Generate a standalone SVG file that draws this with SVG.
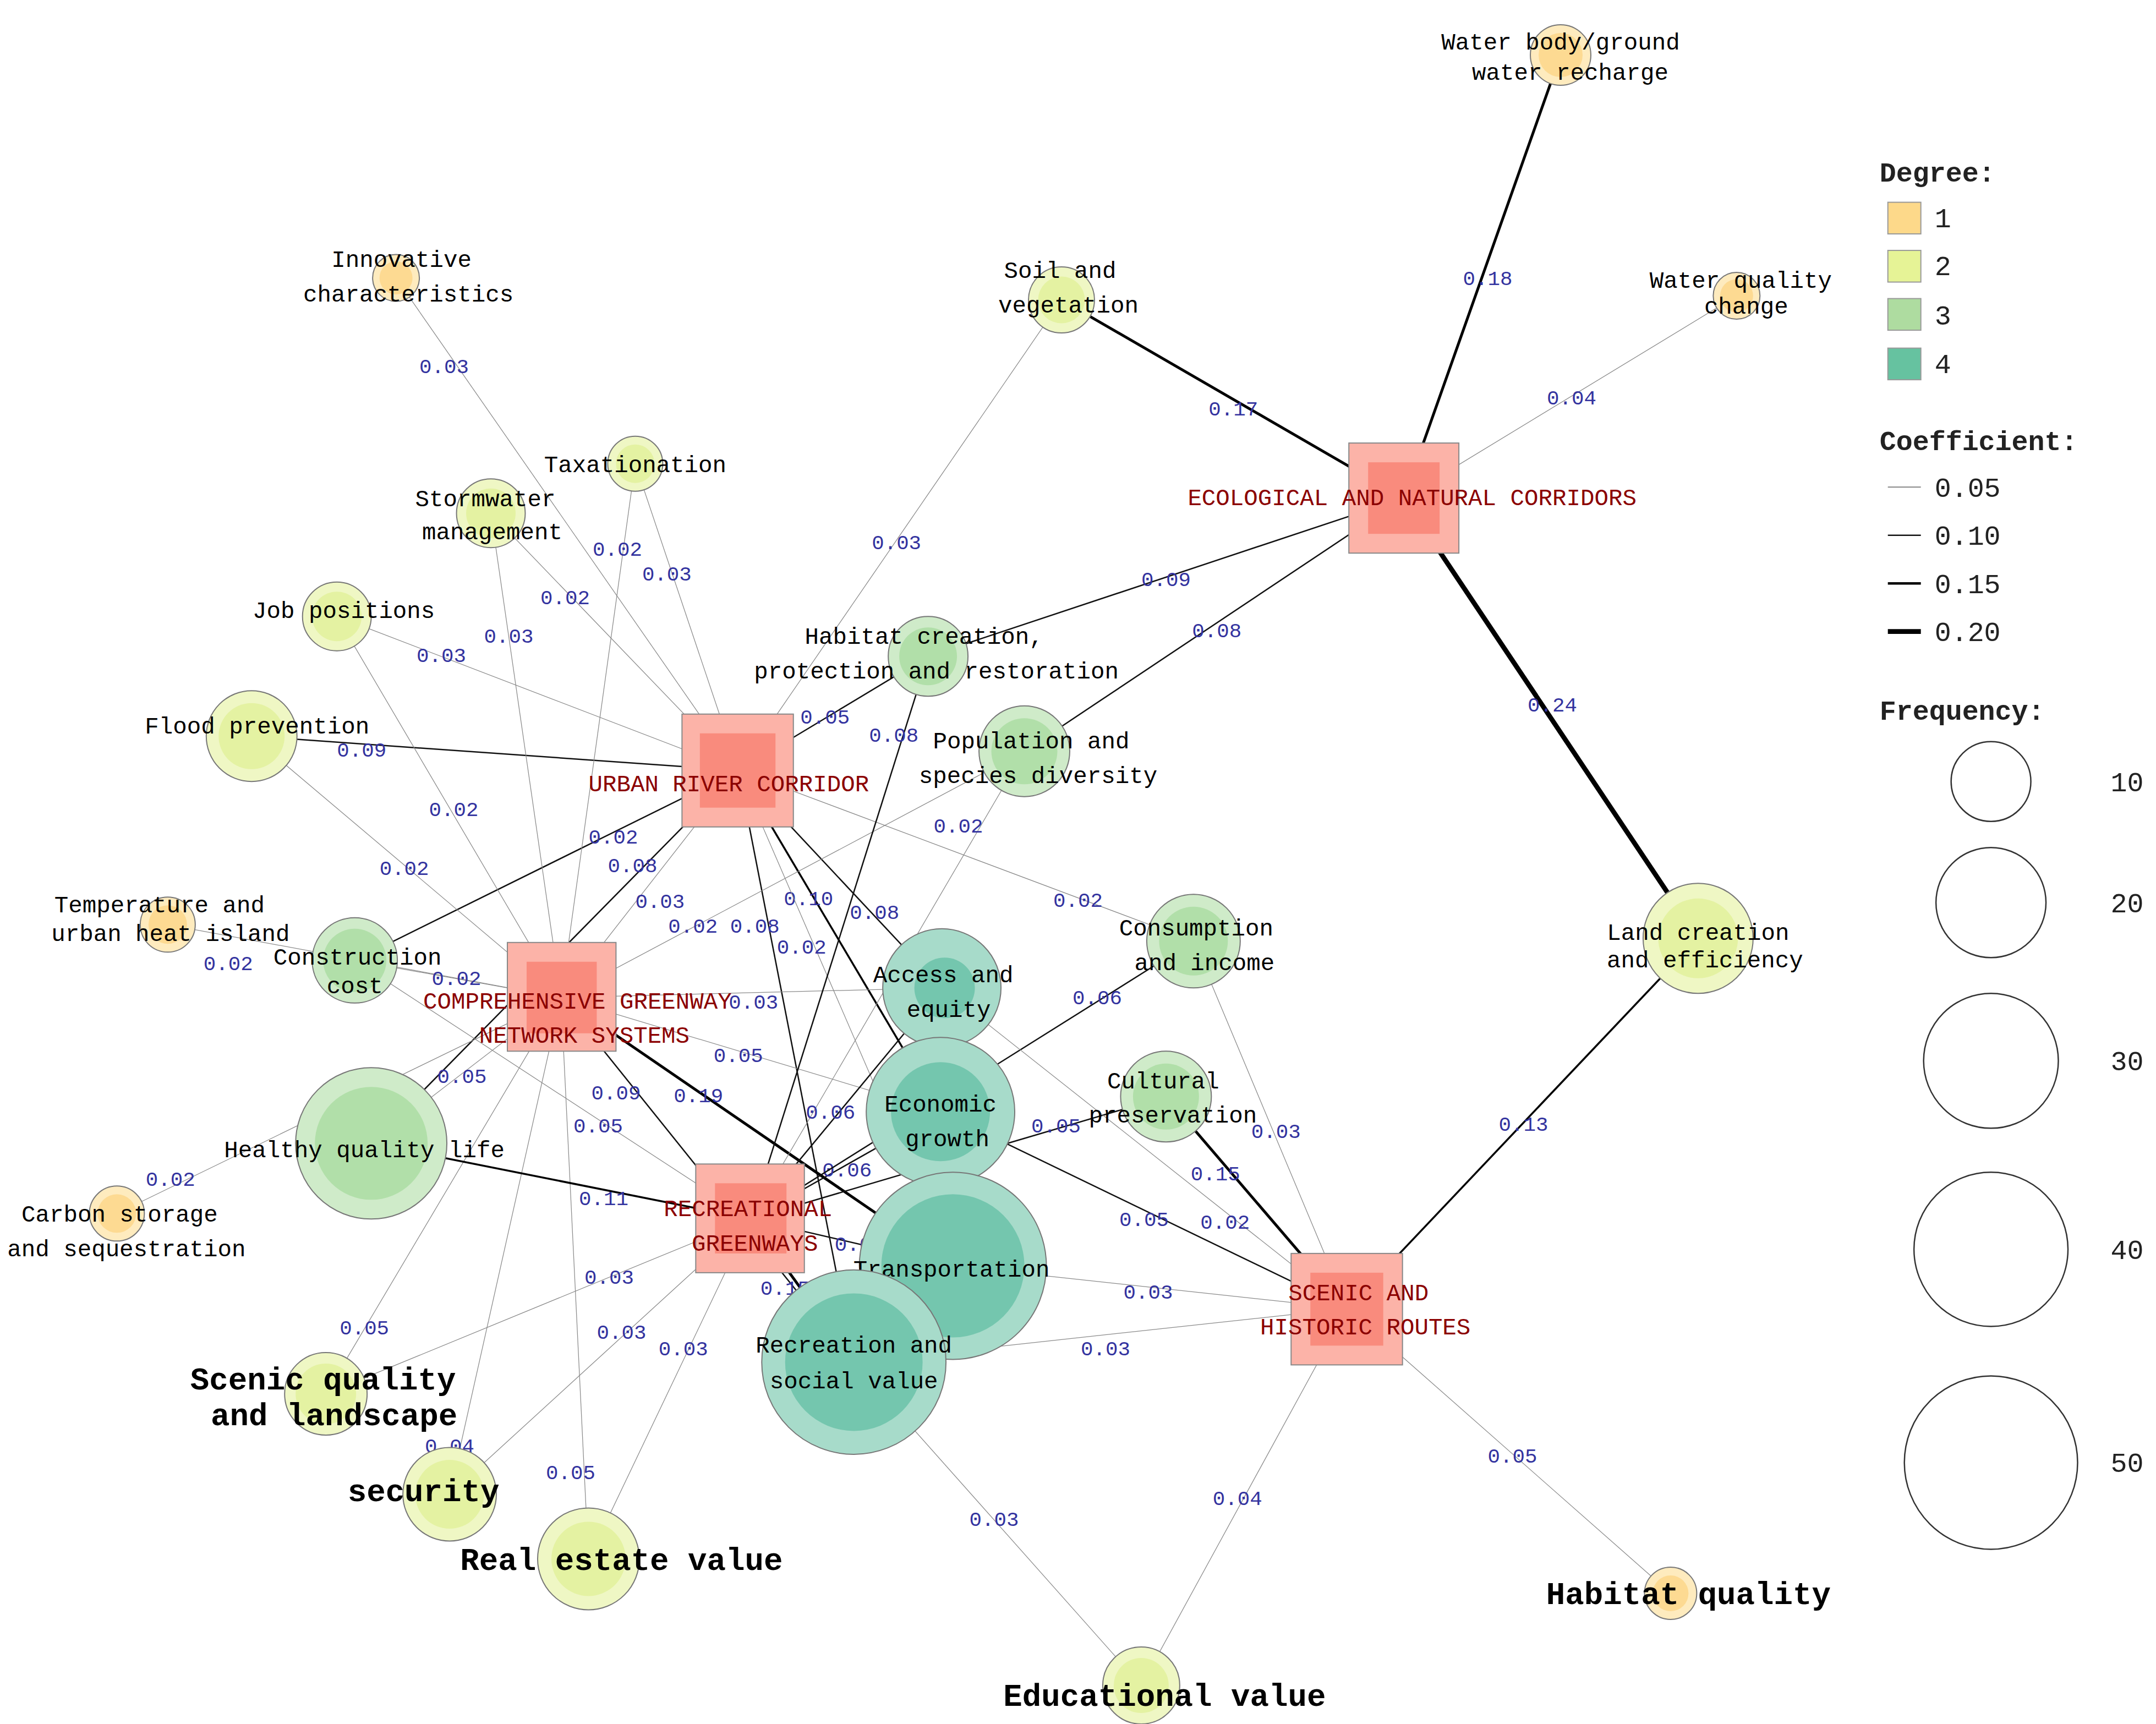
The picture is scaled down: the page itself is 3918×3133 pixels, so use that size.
<svg xmlns="http://www.w3.org/2000/svg" width="3918" height="3133" viewBox="0 0 3918 3133">
<style>
.t{font-family:"Liberation Mono","DejaVu Sans Mono",monospace;font-size:17px;fill:#000;text-anchor:middle}
.b{font-family:"Liberation Mono","DejaVu Sans Mono",monospace;font-size:23px;font-weight:bold;fill:#000;text-anchor:middle}
.h{font-family:"Liberation Mono","DejaVu Sans Mono",monospace;font-size:17px;fill:#8B0000;text-anchor:middle}
.e{font-family:"Liberation Mono","DejaVu Sans Mono",monospace;font-size:15px;fill:#33339f;text-anchor:middle}
.lg{font-family:"Liberation Mono","Courier New",monospace;font-size:20px;font-weight:bold;fill:#222}
.ln{font-family:"Liberation Mono","Courier New",monospace;font-size:20px;fill:#222}
.l0{stroke:#8a8a8a;stroke-width:0.5;fill:none}
.l1{stroke:#111;stroke-width:1;fill:none}
.l2{stroke:#000;stroke-width:1.4;fill:none}
.l3{stroke:#000;stroke-width:2;fill:none}
.l4{stroke:#000;stroke-width:3.5;fill:none}
.o1{fill:#FEEBBE;stroke:#777;stroke-width:0.8}.i1{fill:#FDDA92}
.o2{fill:#EFF7C4;stroke:#777;stroke-width:0.8}.i2{fill:#E4F2A2}
.o3{fill:#CFEBC9;stroke:#777;stroke-width:0.8}.i3{fill:#B1DFA9}
.o4{fill:#A7DBCA;stroke:#777;stroke-width:0.8}.i4{fill:#74C6AE}
.so{fill:#FCB3A8;stroke:#888;stroke-width:0.8}.si{fill:#F98B7D}
</style>
<rect width="3918" height="3133" fill="#fff"/>
<g transform="scale(2.4987,2.5004)">
<g id="connectors">
<line class="l3" x1="1021" y1="362" x2="1135" y2="40"/><text class="e" x="1082" y="207">0.18</text>
<line class="l0" x1="1021" y1="362" x2="1263" y2="215"/><text class="e" x="1143" y="294">0.04</text>
<line class="l3" x1="1021" y1="362" x2="772" y2="218"/><text class="e" x="897" y="302">0.17</text>
<line class="l1" x1="1021" y1="362" x2="675" y2="477"/><text class="e" x="848" y="426">0.09</text>
<line class="l1" x1="1021" y1="362" x2="745" y2="546"/><text class="e" x="885" y="463">0.08</text>
<line class="l4" x1="1021" y1="362" x2="1235" y2="682"/><text class="e" x="1129" y="517">0.24</text>
<line class="l0" x1="537" y1="560" x2="288" y2="202"/><text class="e" x="323" y="271">0.03</text>
<line class="l0" x1="537" y1="560" x2="462" y2="337"/><text class="e" x="485" y="422">0.03</text>
<line class="l0" x1="537" y1="560" x2="357" y2="373"/><text class="e" x="411" y="439">0.02</text>
<line class="l0" x1="537" y1="560" x2="245" y2="448"/><text class="e" x="321" y="481">0.03</text>
<line class="l1" x1="537" y1="560" x2="183" y2="535"/><text class="e" x="263" y="550">0.09</text>
<line class="l0" x1="537" y1="560" x2="772" y2="218"/><text class="e" x="652" y="399">0.03</text>
<line class="l1" x1="537" y1="560" x2="675" y2="477"/><text class="e" x="600" y="526">0.05</text>
<line class="l1" x1="537" y1="560" x2="258" y2="698"/><text class="e" x="446" y="613">0.02</text>
<line class="l1" x1="537" y1="560" x2="270" y2="831"/><text class="e" x="460" y="634">0.08</text>
<line class="l0" x1="537" y1="560" x2="408" y2="725"/><text class="e" x="480" y="660">0.03</text>
<line class="l1" x1="537" y1="560" x2="621" y2="990"/><text class="e" x="549" y="678">0.08</text>
<line class="l2" x1="537" y1="560" x2="684" y2="808"/><text class="e" x="588" y="658">0.10</text>
<line class="l1" x1="537" y1="560" x2="685" y2="718"/><text class="e" x="636" y="668">0.08</text>
<line class="l0" x1="537" y1="560" x2="868" y2="684"/><text class="e" x="784" y="659">0.02</text>
<line class="l0" x1="537" y1="560" x2="693" y2="920"/><text class="e" x="583" y="693">0.02</text>
<line class="l0" x1="408" y1="725" x2="462" y2="337"/><text class="e" x="449" y="404">0.02</text>
<line class="l0" x1="408" y1="725" x2="357" y2="373"/><text class="e" x="370" y="467">0.03</text>
<line class="l0" x1="408" y1="725" x2="245" y2="448"/><text class="e" x="330" y="593">0.02</text>
<line class="l0" x1="408" y1="725" x2="183" y2="535"/><text class="e" x="294" y="636">0.02</text>
<line class="l0" x1="408" y1="725" x2="122" y2="672"/><text class="e" x="166" y="705">0.02</text>
<line class="l0" x1="408" y1="725" x2="258" y2="698"/><text class="e" x="332" y="716">0.02</text>
<line class="l0" x1="408" y1="725" x2="85" y2="882"/><text class="e" x="124" y="862">0.02</text>
<line class="l0" x1="408" y1="725" x2="270" y2="831"/><text class="e" x="336" y="787">0.05</text>
<line class="l0" x1="408" y1="725" x2="237" y2="1013"/><text class="e" x="265" y="970">0.05</text>
<line class="l0" x1="408" y1="725" x2="327" y2="1086"/><text class="e" x="327" y="1056">0.04</text>
<line class="l0" x1="408" y1="725" x2="428" y2="1133"/><text class="e" x="415" y="1075">0.05</text>
<line class="l0" x1="408" y1="725" x2="685" y2="718"/><text class="e" x="548" y="733">0.03</text>
<line class="l0" x1="408" y1="725" x2="684" y2="808"/><text class="e" x="537" y="772">0.05</text>
<line class="l1" x1="408" y1="725" x2="621" y2="990"/><text class="e" x="448" y="799">0.09</text>
<line class="l3" x1="408" y1="725" x2="693" y2="920"/><text class="e" x="508" y="801">0.19</text>
<line class="l0" x1="408" y1="725" x2="745" y2="546"/><text class="e" x="504" y="678">0.02</text>
<line class="l0" x1="258" y1="698" x2="546" y2="886"/><text class="e" x="435" y="823">0.05</text>
<line class="l2" x1="546" y1="886" x2="270" y2="831"/><text class="e" x="439" y="876">0.11</text>
<line class="l1" x1="546" y1="886" x2="675" y2="477"/><text class="e" x="650" y="539">0.08</text>
<line class="l0" x1="546" y1="886" x2="745" y2="546"/><text class="e" x="697" y="605">0.02</text>
<line class="l1" x1="546" y1="886" x2="685" y2="718"/><text class="e" x="604" y="813">0.06</text>
<line class="l1" x1="546" y1="886" x2="684" y2="808"/><text class="e" x="616" y="855">0.06</text>
<line class="l1" x1="546" y1="886" x2="868" y2="684"/><text class="e" x="798" y="730">0.06</text>
<line class="l1" x1="546" y1="886" x2="848" y2="797"/><text class="e" x="768" y="823">0.05</text>
<line class="l1" x1="546" y1="886" x2="693" y2="920"/><text class="e" x="625" y="909">0.07</text>
<line class="l3" x1="546" y1="886" x2="621" y2="990"/><text class="e" x="571" y="941">0.15</text>
<line class="l0" x1="546" y1="886" x2="237" y2="1013"/><text class="e" x="443" y="933">0.03</text>
<line class="l0" x1="546" y1="886" x2="327" y2="1086"/><text class="e" x="452" y="973">0.03</text>
<line class="l0" x1="546" y1="886" x2="428" y2="1133"/><text class="e" x="497" y="985">0.03</text>
<line class="l3" x1="980" y1="951" x2="848" y2="797"/><text class="e" x="884" y="858">0.15</text>
<line class="l0" x1="980" y1="951" x2="868" y2="684"/><text class="e" x="928" y="827">0.03</text>
<line class="l0" x1="980" y1="951" x2="685" y2="718"/><text class="e" x="891" y="893">0.02</text>
<line class="l1" x1="980" y1="951" x2="684" y2="808"/><text class="e" x="832" y="891">0.05</text>
<line class="l0" x1="980" y1="951" x2="693" y2="920"/><text class="e" x="835" y="944">0.03</text>
<line class="l0" x1="980" y1="951" x2="621" y2="990"/><text class="e" x="804" y="985">0.03</text>
<line class="l2" x1="980" y1="951" x2="1235" y2="682"/><text class="e" x="1108" y="822">0.13</text>
<line class="l0" x1="980" y1="951" x2="1215" y2="1158"/><text class="e" x="1100" y="1063">0.05</text>
<line class="l0" x1="980" y1="951" x2="830" y2="1225"/><text class="e" x="900" y="1094">0.04</text>
<line class="l0" x1="621" y1="990" x2="830" y2="1225"/><text class="e" x="723" y="1109">0.03</text>
</g>
<g id="n-wb"><circle class="o1" cx="1135" cy="40" r="22"/><circle class="i1" cx="1135" cy="40" r="16"/><text class="t" x="1135" y="36">Water body/ground</text><text class="t" x="1142" y="58">water recharge</text></g>
<g id="n-wq"><circle class="o1" cx="1263" cy="215" r="17"/><circle class="i1" cx="1263" cy="215" r="12"/><text class="t" x="1266" y="209">Water quality</text><text class="t" x="1270" y="228">change</text></g>
<g id="n-sv"><circle class="o2" cx="772" cy="218" r="24"/><circle class="i2" cx="772" cy="218" r="17"/><text class="t" x="771" y="202">Soil and</text><text class="t" x="777" y="227">vegetation</text></g>
<g id="n-in"><circle class="o1" cx="288" cy="202" r="17"/><circle class="i1" cx="288" cy="202" r="12"/><text class="t" x="292" y="194">Innovative</text><text class="t" x="297" y="219">characteristics</text></g>
<g id="n-tx"><circle class="o2" cx="462" cy="337" r="20"/><circle class="i2" cx="462" cy="337" r="14"/><text class="t" x="462" y="343">Taxationation</text></g>
<g id="n-sw"><circle class="o2" cx="357" cy="373" r="25"/><circle class="i2" cx="357" cy="373" r="18"/><text class="t" x="353" y="368">Stormwater</text><text class="t" x="358" y="392">management</text></g>
<g id="n-jp"><circle class="o2" cx="245" cy="448" r="25"/><circle class="i2" cx="245" cy="448" r="18"/><text class="t" x="250" y="449">Job positions</text></g>
<g id="n-fp"><circle class="o2" cx="183" cy="535" r="33"/><circle class="i2" cx="183" cy="535" r="24"/><text class="t" x="187" y="533">Flood prevention</text></g>
<g id="n-th"><circle class="o1" cx="122" cy="672" r="20"/><circle class="i1" cx="122" cy="672" r="14"/><text class="t" x="116" y="663">Temperature and</text><text class="t" x="124" y="684">urban heat island</text></g>
<g id="n-cc"><circle class="o3" cx="258" cy="698" r="31"/><circle class="i3" cx="258" cy="698" r="23"/><text class="t" x="260" y="701">Construction</text><text class="t" x="258" y="722">cost</text></g>
<g id="n-hq"><circle class="o3" cx="270" cy="831" r="55"/><circle class="i3" cx="270" cy="831" r="41"/><text class="t" x="265" y="841">Healthy quality life</text></g>
<g id="n-cs"><circle class="o1" cx="85" cy="882" r="20"/><circle class="i1" cx="85" cy="882" r="14"/><text class="t" x="87" y="888">Carbon storage</text><text class="t" x="92" y="913">and sequestration</text></g>
<g id="n-sq"><circle class="o2" cx="237" cy="1013" r="30"/><circle class="i2" cx="237" cy="1013" r="22"/><text class="b" x="235" y="1010">Scenic quality</text><text class="b" x="243" y="1036">and landscape</text></g>
<g id="n-se"><circle class="o2" cx="327" cy="1086" r="34"/><circle class="i2" cx="327" cy="1086" r="25"/><text class="b" x="308" y="1091">security</text></g>
<g id="n-re"><circle class="o2" cx="428" cy="1133" r="37"/><circle class="i2" cx="428" cy="1133" r="27"/><text class="b" x="452" y="1141">Real estate value</text></g>
<g id="n-ev"><circle class="o2" cx="830" cy="1225" r="28"/><circle class="i2" cx="830" cy="1225" r="20"/><text class="b" x="847" y="1240">Educational value</text></g>
<g id="n-hb"><circle class="o1" cx="1215" cy="1158" r="19"/><circle class="i1" cx="1215" cy="1158" r="13"/><text class="b" x="1228" y="1166">Habitat quality</text></g>
<g id="n-lc"><circle class="o2" cx="1235" cy="682" r="40"/><circle class="i2" cx="1235" cy="682" r="29"/><text class="t" x="1235" y="683">Land creation</text><text class="t" x="1240" y="703">and efficiency</text></g>
<g id="n-cp"><circle class="o3" cx="848" cy="797" r="33"/><circle class="i3" cx="848" cy="797" r="24"/><text class="t" x="846" y="791">Cultural</text><text class="t" x="853" y="816">preservation</text></g>
<g id="n-ci"><circle class="o3" cx="868" cy="684" r="34"/><circle class="i3" cx="868" cy="684" r="25"/><text class="t" x="870" y="680">Consumption</text><text class="t" x="876" y="705">and income</text></g>
<g id="n-ps"><circle class="o3" cx="745" cy="546" r="33"/><circle class="i3" cx="745" cy="546" r="24"/><text class="t" x="750" y="544">Population and</text><text class="t" x="755" y="569">species diversity</text></g>
<g id="n-hc"><circle class="o3" cx="675" cy="477" r="29"/><circle class="i3" cx="675" cy="477" r="21"/><text class="t" x="672" y="468">Habitat creation,</text><text class="t" x="681" y="493">protection and restoration</text></g>
<g id="n-ae"><circle class="o4" cx="685" cy="718" r="43"/><circle class="i4" cx="687" cy="718" r="22"/><text class="t" x="686" y="714">Access and</text><text class="t" x="690" y="739">equity</text></g>
<g id="n-eg"><circle class="o4" cx="684" cy="808" r="54"/><circle class="i4" cx="684" cy="808" r="36"/><text class="t" x="684" y="808">Economic</text><text class="t" x="689" y="833">growth</text></g>
<g id="n-tr"><circle class="o4" cx="693" cy="920" r="68"/><circle class="i4" cx="693" cy="920" r="52"/><text class="t" x="692" y="928">Transportation</text></g>
<g id="n-rs"><circle class="o4" cx="621" cy="990" r="67"/><circle class="i4" cx="621" cy="990" r="50"/><text class="t" x="621" y="983">Recreation and</text><text class="t" x="621" y="1009">social value</text></g>
<g id="n-eco"><rect class="so" x="981" y="322" width="80" height="80"/><rect class="si" x="995" y="336" width="52" height="52"/><text class="h" x="1027" y="367">ECOLOGICAL AND NATURAL CORRIDORS</text></g>
<g id="n-urc"><rect class="so" x="496" y="519" width="81" height="82"/><rect class="si" x="509" y="533" width="55" height="54"/><text class="h" x="530" y="575">URBAN RIVER CORRIDOR</text></g>
<g id="n-cgn"><rect class="so" x="369" y="685" width="79" height="79"/><rect class="si" x="383" y="699" width="51" height="52"/><text class="h" x="420" y="733">COMPREHENSIVE GREENWAY</text><text class="h" x="425" y="758">NETWORK SYSTEMS</text></g>
<g id="n-rg"><rect class="so" x="506" y="846" width="79" height="79"/><rect class="si" x="520" y="860" width="52" height="51"/><text class="h" x="544" y="884">RECREATIONAL</text><text class="h" x="549" y="909">GREENWAYS</text></g>
<g id="n-shr"><rect class="so" x="939" y="911" width="81" height="81"/><rect class="si" x="953" y="925" width="53" height="53"/><text class="h" x="988" y="945">SCENIC AND</text><text class="h" x="993" y="970">HISTORIC ROUTES</text></g>
<g id="legend">
<text class="lg" x="1367" y="132">Degree:</text>
<rect x="1373" y="147" width="24" height="23" fill="#FDD98A" stroke="#999" stroke-width="0.8"/><text class="ln" x="1407" y="165">1</text>
<rect x="1373" y="182" width="24" height="23" fill="#E6F396" stroke="#999" stroke-width="0.8"/><text class="ln" x="1407" y="200">2</text>
<rect x="1373" y="217" width="24" height="23" fill="#AEDCA0" stroke="#999" stroke-width="0.8"/><text class="ln" x="1407" y="236">3</text>
<rect x="1373" y="253" width="24" height="23" fill="#66C2A0" stroke="#999" stroke-width="0.8"/><text class="ln" x="1407" y="271">4</text>
<text class="lg" x="1367" y="327">Coefficient:</text>
<line x1="1373" y1="354" x2="1397" y2="354" stroke="#444" stroke-width="0.5"/><text class="ln" x="1407" y="361">0.05</text>
<line x1="1373" y1="389" x2="1397" y2="389" stroke="#111" stroke-width="1"/><text class="ln" x="1407" y="396">0.10</text>
<line x1="1373" y1="424" x2="1397" y2="424" stroke="#000" stroke-width="1.8"/><text class="ln" x="1407" y="431">0.15</text>
<line x1="1373" y1="459" x2="1397" y2="459" stroke="#000" stroke-width="3.5"/><text class="ln" x="1407" y="466">0.20</text>
<text class="lg" x="1367" y="523">Frequency:</text>
<g fill="none" stroke="#333" stroke-width="1">
<circle cx="1448" cy="568" r="29"/><circle cx="1448" cy="656" r="40"/><circle cx="1448" cy="771" r="49"/><circle cx="1448" cy="908" r="56"/><circle cx="1448" cy="1063" r="63"/>
</g>
<text class="ln" x="1535" y="575">10</text><text class="ln" x="1535" y="663">20</text><text class="ln" x="1535" y="778">30</text><text class="ln" x="1535" y="915">40</text><text class="ln" x="1535" y="1070">50</text>
</g>
</g>
</svg>
